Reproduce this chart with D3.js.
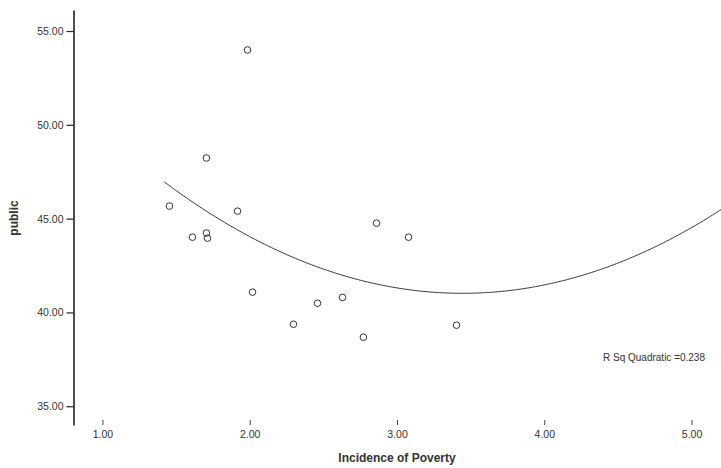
<!DOCTYPE html>
<html>
<head>
<meta charset="utf-8">
<script src="https://cdn.jsdelivr.net/npm/d3@7"></script>
<style>
  html, body { margin: 0; padding: 0; background: #fff; }
  svg { display: block; font-family: "Liberation Sans", Arial, sans-serif; }
</style>
</head>
<body>
<svg id="chart" width="721" height="468"></svg>
<script>
// Observations: incidence of poverty vs. public
const poverty = [1.985, 1.706, 1.455, 1.917, 1.611, 1.706, 1.713, 2.861, 3.078, 2.019, 2.46, 2.63, 2.297, 2.772, 3.404];
const publicShare = [53.99, 48.23, 45.67, 45.40, 44.01, 44.23, 43.96, 44.76, 44.01, 41.08, 40.49, 40.80, 39.37, 38.68, 39.32];

// Quadratic fit: y = c0 + c1*x + c2*x^2
const fitCoef = [58.20, -9.974, 1.4476];
const fitRange = [1.42, 5.25];
const fitLabel = "R Sq Quadratic =0.238";

const xTicks = [1, 2, 3, 4, 5];
const yTicks = [35, 40, 45, 50, 55];

const svg = d3.select("#chart");
const W = 721, H = 468;

const x = d3.scaleLinear().domain([0.8, 5.2]).range([73, 721]);
const y = d3.scaleLinear().domain([34, 56.12]).range([425, 10]);

// y axis
const yAxis = svg.append("g")
  .attr("transform", "translate(73.5,0)")
  .call(d3.axisLeft(y).tickValues(yTicks).tickFormat(d3.format(".2f")).tickSize(7).tickSizeOuter(0));
yAxis.select(".domain").attr("stroke", "#222").attr("stroke-width", 1.6);
yAxis.selectAll(".tick line").attr("stroke", "#222").attr("stroke-width", 1.2);
yAxis.selectAll(".tick text").attr("font-size", 10.5).attr("fill", "#333").attr("x", -10)
  .attr("font-family", "'Liberation Sans', Arial, sans-serif");

// x axis (ticks and labels only)
const xAxis = svg.append("g")
  .attr("transform", "translate(0,425)")
  .call(d3.axisTop(x).tickValues(xTicks).tickFormat(d3.format(".2f")).tickSize(5).tickSizeOuter(0));
xAxis.select(".domain").remove();
xAxis.selectAll(".tick line").attr("stroke", "#444");
xAxis.selectAll(".tick text").attr("font-size", 10.5).attr("fill", "#333")
  .attr("y", 13).attr("dy", "0")
  .attr("font-family", "'Liberation Sans', Arial, sans-serif");

// axis titles
svg.append("text")
  .attr("x", 397).attr("y", 462)
  .attr("text-anchor", "middle")
  .attr("font-size", 12).attr("font-weight", "bold").attr("fill", "#333")
  .text("Incidence of Poverty");

svg.append("text")
  .attr("transform", "translate(18,218) rotate(-90)")
  .attr("text-anchor", "middle")
  .attr("font-size", 12).attr("font-weight", "bold").attr("fill", "#333")
  .text("public");

// fitted curve
const fitX = d3.range(fitRange[0], fitRange[1] + 1e-9, 0.01);
const fitLine = d3.line()
  .x(d => x(d))
  .y(d => y(fitCoef[0] + fitCoef[1] * d + fitCoef[2] * d * d));
svg.append("path")
  .datum(fitX)
  .attr("fill", "none")
  .attr("stroke", "#333")
  .attr("stroke-width", 1)
  .attr("d", fitLine);

// points
svg.append("g")
  .selectAll("circle")
  .data(poverty.map((p, i) => ({ p, v: publicShare[i] })))
  .join("circle")
  .attr("cx", d => x(d.p))
  .attr("cy", d => y(d.v))
  .attr("r", 3.3)
  .attr("fill", "none")
  .attr("stroke", "#333")
  .attr("stroke-width", 1);

// fit statistic
svg.append("text")
  .attr("x", 705).attr("y", 361)
  .attr("text-anchor", "end")
  .attr("font-size", 10).attr("fill", "#333")
  .text(fitLabel);
</script>
</body>
</html>
